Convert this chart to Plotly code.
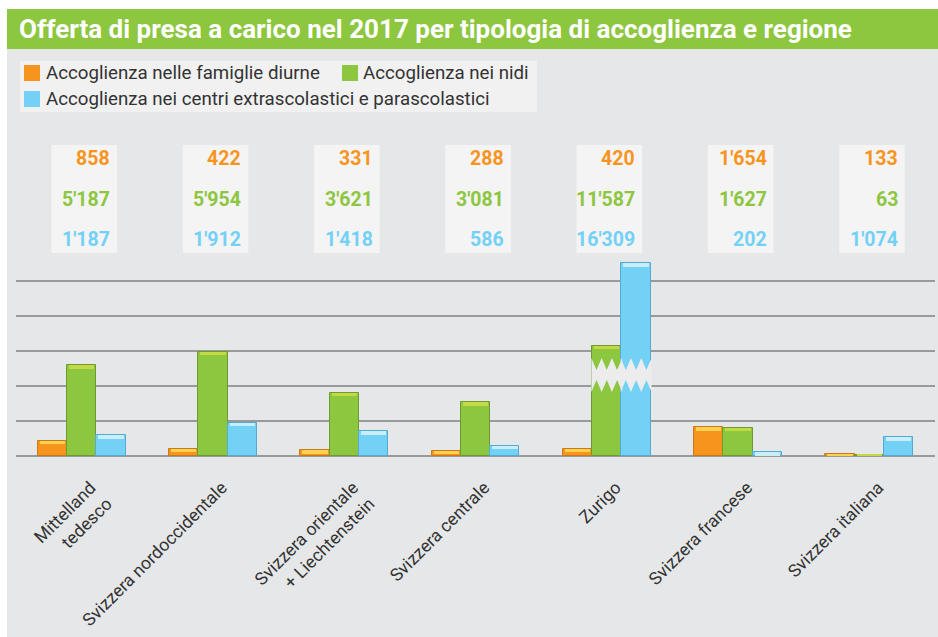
import plotly.graph_objects as go

# ---------------- data ----------------
regions = ["Mittelland<br>tedesco", "Svizzera nordoccidentale",
           "Svizzera orientale<br>+ Liechtenstein", "Svizzera centrale",
           "Zurigo", "Svizzera francese", "Svizzera italiana"]
famiglie_diurne = [858, 422, 331, 288, 420, 1654, 133]
nidi = [5187, 5954, 3621, 3081, 11587, 1627, 63]
centri_extrascolastici = [1187, 1912, 1418, 586, 16309, 202, 1074]

series_names = ["Accoglienza nelle famiglie diurne",
                "Accoglienza nei nidi",
                "Accoglienza nei centri extrascolastici e parascolastici"]
title_text = "Offerta di presa a carico nel 2017 per tipologia di accoglienza e regione"

# ---------------- style ----------------
ORANGE, GREEN, BLUE = "#f7941d", "#8dc63f", "#74d1f6"
EDGES = ["#c9781a", "#6d9b30", "#52acd2"]
TOPS = ["#fcd24e", "#c3da45", "#c9eefa"]
COLORS = [ORANGE, GREEN, BLUE]
BG = "#e6e7e8"
GRID = "#9a9a9a"
FONT = "Roboto"

W, H = 938, 637
ML, MR, MT, MB = 16, 3, 260, 181
PW, PH = W - ML - MR, H - MT - MB
YMAX = 11200

# axis break (values above BREAK_ABOVE are drawn shortened by BREAK_CUT)
BREAK_ABOVE = 8000
BREAK_CUT = 5290
GAP_HI, GAP_LO, TOOTH = 5600, 3660, 690


def px2x(px):
    return (px - ML) / PW


def py2y(py):
    return (H - MB - py) / PH


def shown(v):
    return v - BREAK_CUT if v > BREAK_ABOVE else v


series = [famiglie_diurne, nidi, centri_extrascolastici]
xs = list(range(len(regions)))
BW = 0.2233
OFFS = [-1.5 * BW, -0.5 * BW, 0.5 * BW]
HL = 200

fig = go.Figure()
for k, vals in enumerate(series):
    sv = [shown(v) for v in vals]
    fig.add_trace(go.Bar(
        x=xs, y=sv, width=BW, offset=OFFS[k], name=series_names[k],
        marker=dict(color=COLORS[k], line=dict(color=EDGES[k], width=1)),
        showlegend=False, hoverinfo="skip"))
    hh = [min(HL, s) for s in sv]
    fig.add_trace(go.Bar(
        x=xs, y=hh, base=[s - h for s, h in zip(sv, hh)],
        width=BW - 0.03, offset=OFFS[k] + 0.015,
        marker=dict(color=TOPS[k], line=dict(width=0)),
        showlegend=False, hoverinfo="skip"))

shapes = []
# background panel and title bar
shapes.append(dict(type="rect", xref="paper", yref="paper", layer="below",
                   x0=px2x(7), x1=px2x(W + 2), y0=py2y(H + 2), y1=py2y(49),
                   fillcolor=BG, line=dict(width=0)))
shapes.append(dict(type="rect", xref="paper", yref="paper", layer="below",
                   x0=px2x(7), x1=px2x(W + 2), y0=py2y(49), y1=py2y(9),
                   fillcolor=GREEN, line=dict(width=0)))
# legend box
shapes.append(dict(type="rect", xref="paper", yref="paper", layer="below",
                   x0=px2x(20), x1=px2x(537), y0=py2y(112), y1=py2y(61),
                   fillcolor="#f1f1f2", line=dict(width=0)))
# value boxes
BOX_C, BOX_W = 0.02, 0.5
for i in xs:
    shapes.append(dict(type="rect", xref="x", yref="paper", layer="below",
                       x0=i + BOX_C - BOX_W / 2, x1=i + BOX_C + BOX_W / 2,
                       y0=py2y(253), y1=py2y(145),
                       fillcolor="#f4f4f5", line=dict(width=0)))

# legend squares
leg_pos = [(24, 65), (342, 65), (24, 91)]
for k, (lx, ly) in enumerate(leg_pos):
    shapes.append(dict(type="rect", xref="paper", yref="paper",
                       x0=px2x(lx), x1=px2x(lx + 16), y0=py2y(ly + 16), y1=py2y(ly),
                       fillcolor=COLORS[k], line=dict(width=0)))

# axis-break zigzag gaps
for k, vals in enumerate(series):
    for i, v in enumerate(vals):
        if v > BREAK_ABOVE:
            x0 = i + OFFS[k] - 0.006
            x1 = i + OFFS[k] + BW + 0.006
            w = x1 - x0
            top = []
            for t in range(7):
                yy = GAP_HI if t % 2 == 0 else GAP_HI - TOOTH
                top.append((x0 + w * t / 6, yy))
            bot = []
            for t in range(6, -1, -1):
                yy = GAP_LO if t % 2 == 0 else GAP_LO + TOOTH
                bot.append((x0 + w * t / 6, yy))
            pts = top + bot
            path = "M " + " L ".join(f"{a:.4f},{b:.1f}" for a, b in pts) + " Z"
            shapes.append(dict(type="path", xref="x", yref="y", layer="above",
                               path=path, fillcolor="#ececed", line=dict(width=0)))

annotations = []
annotations.append(dict(xref="paper", yref="paper", x=px2x(17), y=py2y(29),
                        xanchor="left", yanchor="middle", showarrow=False,
                        text="<b>" + title_text + "</b>",
                        font=dict(family=FONT, size=26, color="white")))
leg_txt = [(44, 73), (361, 73), (44, 99)]
for k, (tx, ty) in enumerate(leg_txt):
    annotations.append(dict(xref="paper", yref="paper", x=px2x(tx), y=py2y(ty),
                            xanchor="left", yanchor="middle", showarrow=False,
                            text=series_names[k],
                            font=dict(family=FONT, size=18.7, color="#333333")))
row_py = [158, 199, 239]
for k, vals in enumerate(series):
    for i, v in enumerate(vals):
        annotations.append(dict(xref="x", yref="paper",
                                x=i + BOX_C + BOX_W / 2, xshift=-5,
                                y=py2y(row_py[k]), xanchor="right", yanchor="middle",
                                showarrow=False,
                                text="<b>" + f"{v:,}".replace(",", "'") + "</b>",
                                font=dict(family=FONT, size=19.5, color=COLORS[k])))

fig.update_layout(
    width=W, height=H,
    margin=dict(l=ML, r=MR, t=MT, b=MB, pad=0, autoexpand=False),
    paper_bgcolor="white", plot_bgcolor="rgba(0,0,0,0)",
    barmode="overlay", bargap=0,
    shapes=shapes, annotations=annotations,
    showlegend=False,
    xaxis=dict(range=[-0.5, len(regions) - 0.5], tickmode="array",
               tickvals=xs, ticktext=regions, tickangle=-45,
               tickfont=dict(family=FONT, size=17.6, color="#333333"),
               showgrid=False, zeroline=False, showline=False, ticks="",
               ticklabelstandoff=17, ticklabelshift=9,
               automargin=False, fixedrange=True),
    yaxis=dict(range=[0, YMAX], dtick=2000, tick0=0, showticklabels=False,
               showgrid=True, gridcolor=GRID, gridwidth=1.5,
               zeroline=True, zerolinecolor=GRID, zerolinewidth=1.5,
               showline=False, ticks="", automargin=False, fixedrange=True),
)

fig.write_html("out.html")
